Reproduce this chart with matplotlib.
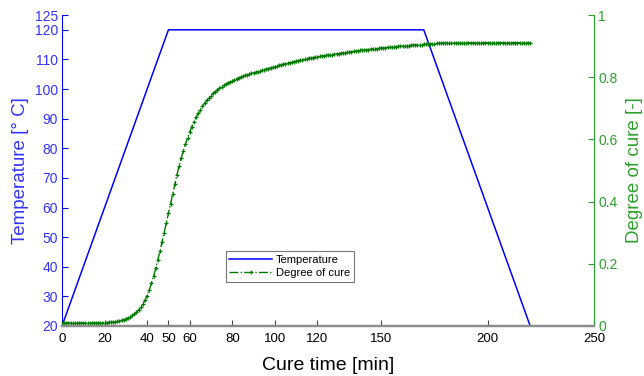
import numpy as np
import matplotlib
matplotlib.use("Agg")
import matplotlib.pyplot as plt

plt.rcParams['font.family'] = ['Liberation Sans', 'DejaVu Sans']

###############################################################################
# Data

# Temperature profile (ramp up, hold, ramp down)
temp_time = [0, 50, 170, 220]
temp_vals = [20, 120, 120, 20]

# Degree of cure, one reading per minute (0..220 min)
cure_vals = [
    0.010, 0.010, 0.010, 0.010, 0.010, 0.010, 0.010, 0.010, 0.010, 0.010,
    0.010, 0.010, 0.010, 0.010, 0.010, 0.010, 0.010, 0.011, 0.011, 0.011,
    0.011, 0.011, 0.012, 0.012, 0.013, 0.014, 0.015, 0.016, 0.018, 0.020,
    0.023, 0.026, 0.030, 0.034, 0.039, 0.045, 0.052, 0.061, 0.071, 0.083,
    0.098, 0.116, 0.137, 0.160, 0.185, 0.212, 0.240, 0.270, 0.300, 0.331,
    0.362, 0.393, 0.425, 0.456, 0.486, 0.514, 0.540, 0.564, 0.585, 0.605,
    0.624, 0.641, 0.657, 0.671, 0.684, 0.696, 0.707, 0.717, 0.726, 0.734,
    0.741, 0.748, 0.754, 0.760, 0.765, 0.770, 0.774, 0.778, 0.782, 0.786,
    0.789, 0.792, 0.795, 0.798, 0.801, 0.803, 0.806, 0.808, 0.810, 0.812,
    0.814, 0.816, 0.818, 0.820, 0.822, 0.824, 0.826, 0.828, 0.830, 0.832,
    0.834, 0.836, 0.838, 0.840, 0.842, 0.843, 0.845, 0.847, 0.849, 0.850,
    0.852, 0.853, 0.855, 0.856, 0.858, 0.859, 0.861, 0.862, 0.863, 0.865,
    0.866, 0.867, 0.868, 0.869, 0.870, 0.871, 0.872, 0.873, 0.874, 0.875,
    0.876, 0.877, 0.878, 0.879, 0.880, 0.881, 0.882, 0.883, 0.884, 0.885,
    0.886, 0.887, 0.887, 0.888, 0.889, 0.890, 0.891, 0.891, 0.892, 0.893,
    0.894, 0.894, 0.895, 0.896, 0.896, 0.897, 0.898, 0.898, 0.899, 0.900,
    0.900, 0.901, 0.901, 0.902, 0.903, 0.903, 0.904, 0.904, 0.905, 0.905,
    0.906, 0.906, 0.907, 0.907, 0.908, 0.908, 0.909, 0.909, 0.909, 0.910,
    0.910, 0.910, 0.910, 0.910, 0.910, 0.910, 0.910, 0.910, 0.910, 0.910,
    0.911, 0.911, 0.911, 0.911, 0.911, 0.911, 0.911, 0.911, 0.911, 0.911,
    0.911, 0.911, 0.911, 0.911, 0.911, 0.911, 0.911, 0.911, 0.911, 0.911,
    0.911, 0.911, 0.911, 0.911, 0.911, 0.911, 0.911, 0.911, 0.911, 0.911,
    0.911,
]
cure_time = np.arange(len(cure_vals))

x_ticks = [0, 20, 40, 50, 60, 80, 100, 120, 150, 200, 250]
temp_ticks = [20, 30, 40, 50, 60, 70, 80, 90, 100, 110, 120, 125]
cure_ticks = [0, 0.2, 0.4, 0.6, 0.8, 1]
cure_tick_labels = ['0', '0.2', '0.4', '0.6', '0.8', '1']

###############################################################################
# Plot

blue = '#0000ff'
blue_txt = '#3333ff'
green_line = '#007a00'
green_ax = '#2ca02c'

fig = plt.figure(figsize=(6.44, 3.76), dpi=100)
ax = fig.add_axes([0.0963, 0.133, 0.8261, 0.827])
ax2 = ax.twinx()

l1, = ax.plot(temp_time, temp_vals, color=blue, lw=1.1, label='Temperature')
l2, = ax2.plot(cure_time, cure_vals, color=green_line, lw=1.0, ls='-.',
               marker='+', markersize=2.5, markeredgewidth=0.9,
               label='Degree of cure')

ax.set_xlim(0, 250)
ax.set_ylim(20, 125)
ax2.set_ylim(0, 1)
ax.set_xticks(x_ticks)
ax.set_yticks(temp_ticks)
ax2.set_yticks(cure_ticks)
ax2.set_yticklabels(cure_tick_labels)

# spines
for a in (ax, ax2):
    a.spines['top'].set_visible(False)
    a.spines['bottom'].set_color('#8c8c8c')
    a.spines['bottom'].set_linewidth(1.6)
ax.spines['left'].set_color(blue)
ax.spines['right'].set_visible(False)
ax2.spines['left'].set_visible(False)
ax2.spines['right'].set_color(green_ax)

ax.tick_params(axis='x', direction='in', length=4, color='#444444',
               labelsize=9.5, pad=5)
ax.tick_params(axis='y', direction='in', length=4, color=blue,
               labelcolor=blue_txt, labelsize=10, pad=3)
ax2.tick_params(axis='y', direction='in', length=4, color=green_ax,
                labelcolor=green_ax, labelsize=10, pad=3)

ax.set_xlabel('Cure time [min]', fontsize=14, labelpad=9)
ax.set_ylabel('Temperature [° C]', fontsize=13.5, color=blue_txt, labelpad=4)
ax2.set_ylabel('Degree of cure [-]', fontsize=13.5, color=green_ax, labelpad=6)

leg = ax.legend([l1, l2], ['Temperature', 'Degree of cure'],
                loc='lower left', bbox_to_anchor=(0.297, 0.125),
                fontsize=8, frameon=True, fancybox=False,
                handlelength=3.8, borderpad=0.35, labelspacing=0.25,
                handletextpad=0.4)
leg.get_frame().set_edgecolor('#555555')
leg.get_frame().set_linewidth(0.8)

fig.savefig('out.png', dpi=100)
